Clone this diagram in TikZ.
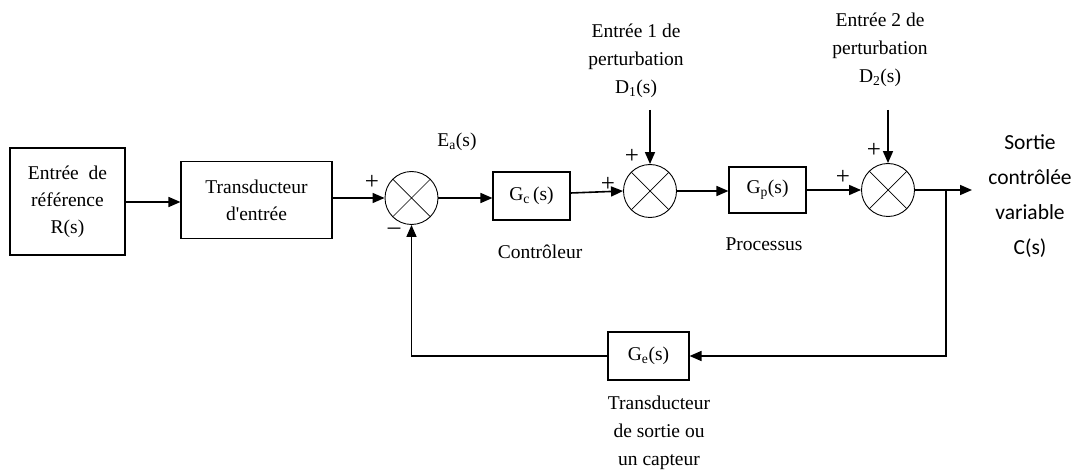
\documentclass[tikz,border=0pt]{standalone}
\usepackage{fontspec}
\setmainfont{Liberation Serif}
\newfontfamily\calib{Carlito}
\usetikzlibrary{arrows.meta}
\tikzset{
  txt/.style={font=\fontsize{19.5}{28}\selectfont, align=center, inner sep=0pt},
  blockbox/.style={draw, line width=1.1pt, minimum width=#1, inner sep=0pt, font=\fontsize{19.5}{27}\selectfont, align=center},
  sumnode/.style={draw, circle, line width=0.9pt, minimum size=53pt, inner sep=0pt,
    path picture={\draw[line width=0.7pt] (path picture bounding box.north west) -- (path picture bounding box.south east)
      (path picture bounding box.north east) -- (path picture bounding box.south west);}},
  sig/.style={line width=1.6pt, -{Triangle[length=12pt,width=10pt]}},
  wire/.style={line width=1.6pt},
  sgn/.style={font=\fontsize{25}{25}\selectfont, inner sep=0pt}
}
\begin{document}
\begin{tikzpicture}[x=1pt,y=-1pt]
\useasboundingbox (0,0) rectangle (1082,473);
% blocks
\node[blockbox=115pt, minimum height=107pt] (ref) at (67.5,201.5) {Entrée~~de\\référence\\R(s)};
\node[blockbox=151pt, minimum height=77pt] (tin) at (256.5,200) {Transducteur\\d\textquotesingle entrée};
\node[sumnode] (s1) at (411.5,198) {};
\node[blockbox=77pt, minimum height=48pt] (gc) at (531.5,196) {G\textsubscript{c}\,(s)};
\node[sumnode] (s2) at (650,191) {};
\node[blockbox=77pt, minimum height=46pt] (gp) at (767.5,190) {G\textsubscript{p}(s)};
\node[sumnode] (s3) at (888,190) {};
\node[blockbox=81pt, minimum height=48pt] (ge) at (648.5,356) {G\textsubscript{e}(s)};
\coordinate (br) at (946,190);
\coordinate (out) at (972,190);
\coordinate (d1) at (650,110);
\coordinate (d2) at (888,110);
% labels
\node[txt] (ea) at (457,142) {E\textsubscript{a}(s)};
\node[txt] (ctrl) at (540,252) {Contrôleur};
\node[txt] (proc) at (764,244) {Processus};
\node[txt] (d1t) at (636,61) {Entrée 1 de\\perturbation\\D\textsubscript{1}(s)};
\node[txt] (d2t) at (880,50) {Entrée 2 de\\perturbation\\D\textsubscript{2}(s)};
\node[txt] (gecap) at (659,433) {Transducteur\\de sortie ou\\un capteur};
\node[font=\calib\fontsize{21.5}{35}\selectfont, align=center, inner sep=0pt] (outt) at (1030,196) {Sortie\\contrôlée\\variable\\C(s)};
\node[sgn] (p1) at (372,182) {+};
\node[sgn] (m1) at (394,231) {--};
\node[sgn] (p2a) at (608,184) {+};
\node[sgn] (p2b) at (632,156) {+};
\node[sgn] (p3a) at (843,177) {+};
\node[sgn] (p3b) at (874,150) {+};
% connectors
\draw[sig] (ref.east |- 0,202) -- (tin.west |- 0,202);
\draw[sig] (tin.east |- s1.west) -- (s1.west);
\draw[sig] (s1.east) -- (gc.west |- s1.east);
\draw[sig] (gc.east |- 0,193) -- (s2.west);
\draw[sig] (s2.east) -- (gp.west |- s2.east);
\draw[sig] (gp.east) -- (s3.west);
\draw[sig] (s3.east) -- (out);
\draw[sig] (d1) -- (s2.north);
\draw[sig] (d2) -- (s3.north);
\draw[sig] (br) |- (ge.east);
\draw[sig] (ge.west) -| (s1.south);
\end{tikzpicture}
\end{document}
